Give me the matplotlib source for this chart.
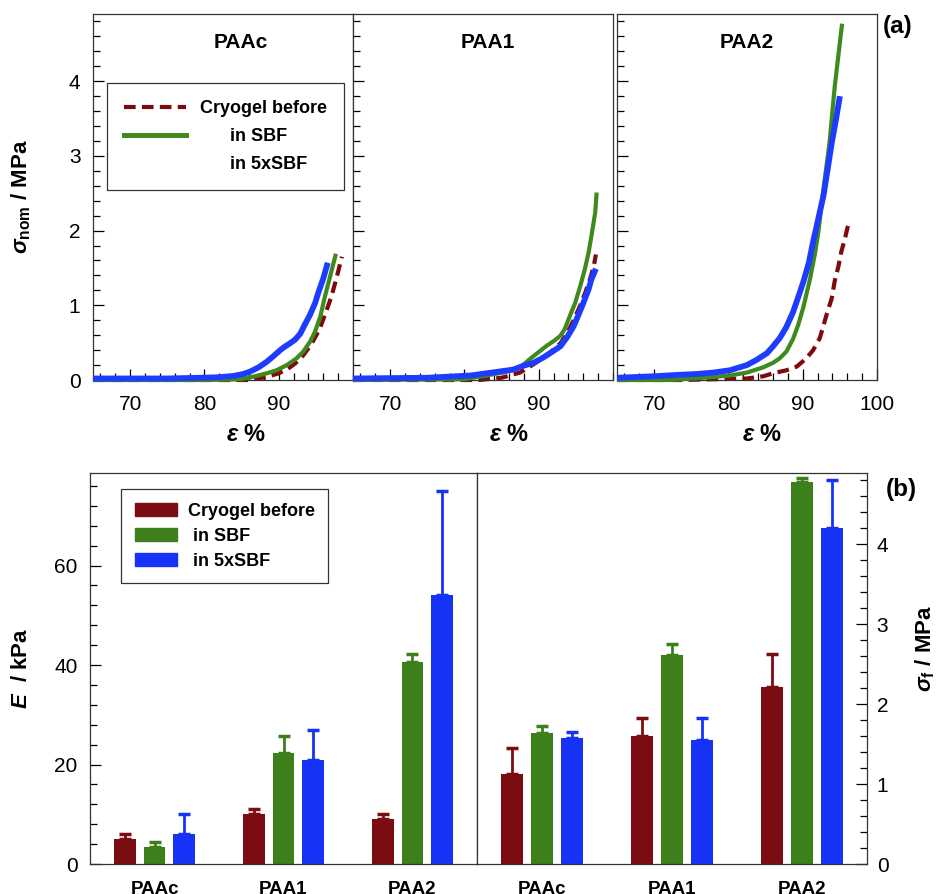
import numpy as np
import matplotlib.pyplot as plt
from matplotlib.lines import Line2D
from matplotlib.patches import Patch
from matplotlib.ticker import MultipleLocator

plt.rcParams['font.family'] = ['Liberation Sans', 'DejaVu Sans']
plt.rcParams['mathtext.fontset'] = 'custom'
plt.rcParams['mathtext.rm'] = 'Liberation Sans:bold'
plt.rcParams['mathtext.it'] = 'Liberation Sans:bold:italic'
plt.rcParams['mathtext.bf'] = 'Liberation Sans:bold'

# --- (a) curvas esfuerzo-deformación ---
muestras = ['PAAc', 'PAA1', 'PAA2']

paac_eps_antes = [65, 80, 86.0, 88.4, 90.0, 91.1, 92.2, 93.3, 94.4, 95.5, 96.4, 97.1, 97.6, 98.0, 98.5]
paac_sig_antes = [0, 0, 0.0, 0.04, 0.09, 0.14, 0.22, 0.33, 0.48, 0.68, 0.92, 1.12, 1.30, 1.45, 1.65]
paac_eps_sbf = [65, 80, 84.8, 86.6, 88.4, 89.7, 91.1, 92.4, 93.3, 94.2, 94.9, 95.6, 96.2, 96.9, 97.7]
paac_sig_sbf = [0, 0, 0.01, 0.045, 0.09, 0.13, 0.20, 0.29, 0.38, 0.51, 0.65, 0.85, 1.11, 1.38, 1.69]
paac_eps_5x = [65, 75, 79.4, 81.7, 83.9, 85.2, 86.1, 87.3, 88.4, 89.3, 90.2, 90.8, 91.5,
               92.2, 92.9, 93.5, 94.2, 94.9, 95.3, 96.0, 96.6]
paac_sig_5x = [0.02, 0.02, 0.03, 0.036, 0.054, 0.08, 0.11, 0.17, 0.245, 0.32, 0.40, 0.445, 0.49,
               0.54, 0.62, 0.74, 0.87, 1.03, 1.16, 1.36, 1.57]

paa1_eps_antes = [65, 82, 85.0, 87.5, 89.3, 90.6, 91.7, 92.9, 93.8, 94.7, 95.6, 96.3, 96.9, 97.4, 97.7]
paa1_sig_antes = [0, 0, 0.03, 0.10, 0.21, 0.30, 0.38, 0.49, 0.62, 0.80, 1.00, 1.18, 1.35, 1.52, 1.68]
paa1_eps_sbf = [65, 80, 85.2, 87.5, 88.8, 90.2, 91.1, 92.0, 92.9, 93.5, 94.2, 94.9, 95.6, 96.2,
                96.7, 97.1, 97.6, 97.8]
paa1_sig_sbf = [0, 0.01, 0.10, 0.165, 0.28, 0.39, 0.46, 0.52, 0.59, 0.68, 0.86, 1.03, 1.26, 1.48,
                1.70, 1.93, 2.24, 2.51]
paa1_eps_5x = [65, 75, 80.8, 83.0, 85.2, 86.6, 87.9, 89.3, 90.6, 91.7, 92.9, 93.8, 94.7, 95.3,
               96.0, 96.7, 97.1, 97.7]
paa1_sig_5x = [0.02, 0.03, 0.06, 0.09, 0.12, 0.14, 0.19, 0.23, 0.30, 0.37, 0.45, 0.57, 0.72, 0.86,
               1.03, 1.21, 1.35, 1.49]

paa2_eps_antes = [65, 73.5, 82.5, 84.7, 86.0, 87.8, 89.2, 90.5, 91.4, 92.3, 93.2, 93.9, 94.3,
                  94.8, 95.2, 95.7, 96.1, 96.45]
paa2_sig_antes = [0, 0, 0.02, 0.05, 0.09, 0.13, 0.18, 0.29, 0.40, 0.56, 0.87, 1.09, 1.32,
                  1.52, 1.72, 1.90, 2.07, 2.12]
paa2_eps_sbf = [65, 72, 78.0, 80.2, 82.5, 84.7, 86.0, 86.9, 87.8, 88.7, 89.4, 90.1, 91.0, 91.7,
                92.1, 92.8, 93.6, 94.3, 95.3]
paa2_sig_sbf = [0, 0, 0.04, 0.06, 0.10, 0.17, 0.23, 0.29, 0.38, 0.55, 0.74, 0.98, 1.36, 1.72,
                1.98, 2.56, 3.17, 3.92, 4.77]
paa2_eps_5x = [65, 70, 73.5, 75.7, 78.0, 80.2, 82.5, 83.8, 85.2, 86.0, 86.9, 87.8, 88.7, 89.4,
               90.1, 90.8, 91.4, 92.1, 92.8, 93.4, 93.9, 94.5, 95.0]
paa2_sig_5x = [0.03, 0.05, 0.07, 0.08, 0.10, 0.13, 0.20, 0.27, 0.36, 0.45, 0.56, 0.71, 0.91, 1.11,
               1.32, 1.56, 1.85, 2.16, 2.47, 2.85, 3.17, 3.50, 3.80]

curvas = [
    (paac_eps_antes, paac_sig_antes, paac_eps_sbf, paac_sig_sbf, paac_eps_5x, paac_sig_5x),
    (paa1_eps_antes, paa1_sig_antes, paa1_eps_sbf, paa1_sig_sbf, paa1_eps_5x, paa1_sig_5x),
    (paa2_eps_antes, paa2_sig_antes, paa2_eps_sbf, paa2_sig_sbf, paa2_eps_5x, paa2_sig_5x),
]

# --- (b) módulo E y esfuerzo de fractura ---
E_antes = [5.0, 10.1, 9.1]
E_antes_err = [1.1, 1.0, 1.0]
E_sbf = [3.4, 22.3, 40.7]
E_sbf_err = [1.0, 3.5, 1.6]
E_5x = [6.0, 21.0, 54.0]
E_5x_err = [4.0, 6.0, 21.0]

sf_antes = [1.13, 1.60, 2.21]
sf_antes_err = [0.32, 0.23, 0.42]
sf_sbf = [1.64, 2.61, 4.78]
sf_sbf_err = [0.08, 0.14, 0.05]
sf_5x = [1.57, 1.55, 4.20]
sf_5x_err = [0.08, 0.28, 0.60]

rojo_linea = '#7f0a0e'
verde_linea = '#3f8a1c'
azul_linea = '#1e3cff'
rojo_barra = '#7a0c12'
verde_barra = '#3d7f1a'
azul_barra = '#1632f7'

W, H = 936, 894
fig = plt.figure(figsize=(W / 100, H / 100), dpi=100)


def caja(x0, x1, y0, y1):
    # convierte píxeles (origen arriba-izquierda) a coordenadas de figura
    return [x0 / W, 1 - y1 / H, (x1 - x0) / W, (y1 - y0) / H]


posiciones = [caja(93, 353, 14, 380), caja(353, 613, 14, 380), caja(617, 877, 14, 380)]
titulo_x = [0.57, 0.52, 0.50]
etiqueta_x = [0.59, 0.60, 0.56]
guiones = (0, (2.8, 1.5))

for i, (pos, datos) in enumerate(zip(posiciones, curvas)):
    ax = fig.add_axes(pos)
    ea, sa, es, ss, e5, s5 = datos
    ax.plot(ea, sa, color=rojo_linea, lw=3.0, ls=guiones, clip_on=False, zorder=2)
    ax.plot(es, ss, color=verde_linea, lw=3.0, clip_on=False, zorder=3,
            solid_joinstyle='round', solid_capstyle='butt')
    ax.plot(e5, s5, color=azul_linea, lw=4.2, clip_on=False, zorder=4,
            solid_joinstyle='round', solid_capstyle='butt')
    ax.set_xlim(65, 100)
    ax.set_ylim(0, 4.9)
    ax.xaxis.set_major_locator(MultipleLocator(10))
    ax.xaxis.set_minor_locator(MultipleLocator(2))
    ax.yaxis.set_major_locator(MultipleLocator(1))
    ax.yaxis.set_minor_locator(MultipleLocator(0.2))
    if i < 2:
        ax.set_xticks([70, 80, 90])
    else:
        ax.set_xticks([70, 80, 90, 100])
    ax.tick_params(which='both', direction='in', top=False, right=False, labelsize=15, width=0.9)
    ax.tick_params(which='major', length=8)
    ax.tick_params(which='minor', length=5)
    ax.tick_params(axis='x', pad=11)
    ax.tick_params(axis='y', pad=9)
    if i > 0:
        ax.set_yticklabels([])
    for s in ax.spines.values():
        s.set_linewidth(0.9)
        s.set_color('#333333')
    ax.text(titulo_x[i], 0.923, muestras[i], transform=ax.transAxes, ha='center', va='center',
            fontsize=15, fontweight='bold')
    ax.text(etiqueta_x[i], -0.15, '$\u03b5$ %', transform=ax.transAxes, ha='center', va='center',
            fontsize=17, fontweight='bold')
    if i == 0:
        ax.set_ylabel(r'$\sigma_{\mathrm{nom}}$ / MPa', fontsize=16, fontweight='bold')
        ax.yaxis.set_label_coords(-0.232, 0.5)
        manejadores = [
            Line2D([], [], color=rojo_linea, lw=3.0, ls=guiones),
            Line2D([], [], color=verde_linea, lw=3.6),
            Line2D([], [], color='none', lw=3.6),
        ]
        leg = ax.legend(manejadores, ['Cryogel before', '      in SBF', '      in 5xSBF'],
                        loc='upper left', bbox_to_anchor=(0.054, 0.811), fancybox=False,
                        edgecolor='#333333', framealpha=1, handlelength=3.4, handletextpad=0.8,
                        labelspacing=0.6, borderpad=0.95, borderaxespad=0,
                        prop={'weight': 'bold', 'size': 13})
        leg.get_frame().set_linewidth(0.9)

fig.text(898 / W, 1 - 26 / H, '(a)', ha='center', va='center', fontsize=17.5, fontweight='bold')

# barras
x = np.arange(len(muestras))
ancho = 0.17
desp = 0.23
series_E = [(E_antes, E_antes_err, rojo_barra), (E_sbf, E_sbf_err, verde_barra), (E_5x, E_5x_err, azul_barra)]
series_sf = [(sf_antes, sf_antes_err, rojo_barra), (sf_sbf, sf_sbf_err, verde_barra), (sf_5x, sf_5x_err, azul_barra)]

axE = fig.add_axes(caja(90, 477, 473, 864))
axF = fig.add_axes(caja(477, 867, 473, 864))

for ax, series in [(axE, series_E), (axF, series_sf)]:
    for k, (vals, err, c) in enumerate(series):
        xs = x + (k - 1) * desp
        ax.bar(xs, vals, width=ancho, color=c, zorder=2)
        ax.errorbar(xs, vals, yerr=[np.zeros(len(vals)), err], fmt='none', ecolor=c,
                    elinewidth=2.0, capsize=4, capthick=2.5, zorder=3)
    ax.set_xlim(-0.5, 2.5)
    ax.set_xticks(x)
    ax.set_xticklabels(muestras, fontsize=13.5, fontweight='bold')
    ax.tick_params(axis='x', length=0, pad=12)
    for s in ax.spines.values():
        s.set_linewidth(0.9)
        s.set_color('#333333')

axE.set_ylim(0, 78.6)
axE.yaxis.set_major_locator(MultipleLocator(20))
axE.yaxis.set_minor_locator(MultipleLocator(4))
axE.tick_params(axis='y', which='both', direction='in', labelsize=15, pad=9, width=0.9)
axE.tick_params(axis='y', which='major', length=8)
axE.tick_params(axis='y', which='minor', length=5)
axE.set_ylabel(r'$E$  / kPa', fontsize=16, fontweight='bold')
axE.yaxis.set_label_coords(-0.15, 0.5)
axE.legend([Patch(color=rojo_barra), Patch(color=verde_barra), Patch(color=azul_barra)],
           ['Cryogel before', ' in SBF', ' in 5xSBF'], loc='upper left',
           bbox_to_anchor=(0.08, 0.959), fancybox=False, edgecolor='#333333', framealpha=1,
           handlelength=2.35, handleheight=0.7, handletextpad=0.6, labelspacing=0.45,
           borderpad=0.75, borderaxespad=0, prop={'weight': 'bold', 'size': 13}).get_frame().set_linewidth(0.9)

axF.set_ylim(0, 4.89)
axF.yaxis.set_major_locator(MultipleLocator(1))
axF.yaxis.set_minor_locator(MultipleLocator(0.2))
axF.yaxis.tick_right()
axF.tick_params(axis='y', which='both', direction='in', left=False, right=True,
                labelsize=15, pad=7, width=0.9)
axF.tick_params(axis='y', which='major', length=8)
axF.tick_params(axis='y', which='minor', length=5)
axF.yaxis.set_label_position('right')
axF.set_ylabel(r'$\sigma_{\mathrm{f}}$ / MPa', fontsize=16, fontweight='bold', rotation=90)
axF.yaxis.set_label_coords(1.118, 0.55)

fig.text(901 / W, 1 - 490 / H, '(b)', ha='center', va='center', fontsize=17.5, fontweight='bold')

fig.savefig('out.png', dpi=100)
